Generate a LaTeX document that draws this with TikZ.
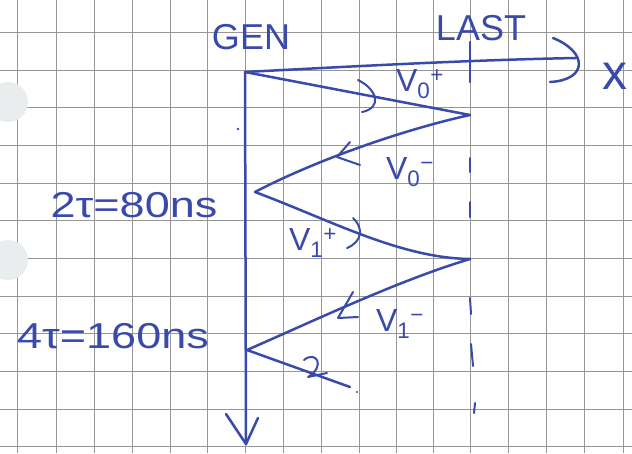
\documentclass[tikz,border=0pt]{standalone}
\usepackage{fontspec}
\setmainfont{Liberation Sans}
\definecolor{ink}{RGB}{58,74,170}
\definecolor{gridc}{RGB}{150,150,150}
\definecolor{holec}{RGB}{234,237,237}
\tikzset{
  pen/.style={draw=ink, line width=2.5pt, line cap=round, line join=round},
  thinpen/.style={draw=ink, line width=2pt, line cap=round, line join=round},
  gridline/.style={draw=gridc, line width=0.8pt},
  lab/.style={text=ink, inner sep=0pt, font=\fontsize{36}{36}\selectfont},
  vlab/.style={text=ink, inner sep=0pt, font=\fontsize{32}{32}\selectfont},
}
\begin{document}
\begin{tikzpicture}[x=1pt,y=-1pt]
\useasboundingbox (0,0) rectangle (632,453);
\fill[white] (0,0) rectangle (632,453);
% grid paper
\foreach \gx in {17,56,94,132,170,207,245,283,321,359,396,433,470,508,546,584,623}
  \draw[gridline] (\gx,0) -- (\gx,453);
\foreach \gy in {32,70,107,145,183,220,258,296,333,371,409,446}
  \draw[gridline] (0,\gy) -- (632,\gy);
% punch holes
\fill[holec] (8,102) circle (20);
\fill[holec] (8,260) circle (20);
% key points
\coordinate (G0) at (245,72);
\coordinate (L0) at (470,115);
\coordinate (G1) at (255,192);
\coordinate (L1) at (470,259);
\coordinate (G2) at (247,350);
\coordinate (E)  at (350,387);
\coordinate (Xend) at (576,58);
\coordinate (Tend) at (246,444);
% axes
\draw[pen] (G0) .. controls (360,66) and (470,60) .. (Xend);
\draw[pen] (G0) -- (Tend);
\draw[pen] (553,38) .. controls (588,52) and (588,80) .. (550,82);
\draw[pen] (226,414) -- (Tend) -- (258,418);
% LAST line
\draw[pen] (470,42) -- (470,82);
\draw[thinpen] (470,158) -- (470,172);
\draw[thinpen] (470,202) -- (470,217);
\draw[thinpen] (470,298) -- (471,314);
\draw[thinpen] (471,344) -- (473,366);
\draw[thinpen] (475,403) -- (474,413);
% zigzag
\draw[pen] (G0) -- (L0);
\draw[pen] (L0) .. controls (410,128) and (320,158) .. (G1);
\draw[pen] (G1) .. controls (330,220) and (400,258) .. (L1);
\draw[pen] (L1) .. controls (400,280) and (320,318) .. (G2);
\draw[pen] (G2) -- (E);
% arrowheads on the lines
\draw[thinpen] (358,80) .. controls (378,90) and (382,108) .. (362,112);
\draw[thinpen] (350,142) -- (337,157) -- (360,165);
\draw[thinpen] (353,218) .. controls (364,228) and (362,242) .. (347,248);
\draw[thinpen] (353,292) -- (338,318) -- (358,317);
\draw[thinpen] (304,360) .. controls (316,350) and (326,366) .. (308,377) -- (327,373);
\fill[ink] (357,392) circle (1.2);
\fill[ink] (238,129) circle (1.3);
% labels
\node[lab] (gen) at (251,37) {GEN};
\node[lab] (last) at (481,28) {LAST};
\node[text=ink, inner sep=0pt, font=\fontsize{50}{50}\selectfont] (xl) at (615,76) {x};
\node[vlab] (v0p) at (420,84) {V\textsubscript{0}\textsuperscript{+}};
\node[vlab] (v0m) at (410,172) {V\textsubscript{0}\textsuperscript{−}};
\node[vlab] (v1p) at (313,243) {V\textsubscript{1}\textsuperscript{+}};
\node[vlab] (v1m) at (400,324) {V\textsubscript{1}\textsuperscript{−}};
\node[lab] (t2) at (134,205) {\scalebox{1.25}[1]{2τ=80ns}};
\node[lab] (t4) at (113,336) {\scalebox{1.25}[1]{4τ=160ns}};
\end{tikzpicture}
\end{document}
